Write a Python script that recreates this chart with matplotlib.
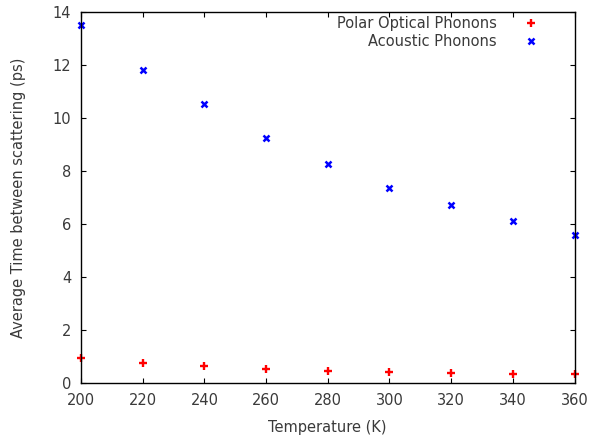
import matplotlib
matplotlib.use("Agg")
import matplotlib.pyplot as plt

temperature = [200, 220, 240, 260, 280, 300, 320, 340, 360]
polar_optical = [0.93, 0.74, 0.64, 0.53, 0.47, 0.43, 0.39, 0.35, 0.33]
acoustic = [13.5, 11.8, 10.53, 9.23, 8.28, 7.35, 6.71, 6.13, 5.58]
xticks = [200, 220, 240, 260, 280, 300, 320, 340, 360]
yticks = [0, 2, 4, 6, 8, 10, 12, 14]

txt = '#3a3a3a'
plt.rcParams['font.family'] = ['DejaVu Sans']
plt.rcParams['font.size'] = 10.5

fig = plt.figure(figsize=(5.91, 4.41), dpi=100)
ax = fig.add_axes([81/591, 58/441, (574.5-81)/591, (383-12)/441])

ax.plot(temperature, polar_optical, linestyle='none', marker='+', color='#ff0000',
        markersize=6, markeredgewidth=1.7, clip_on=False, label='Polar Optical Phonons')
ax.plot(temperature, acoustic, linestyle='none', marker='x', color='#0000ff',
        markersize=5, markeredgewidth=1.8, clip_on=False, label='Acoustic Phonons')

ax.set_xlim(200, 360)
ax.set_ylim(0, 14)
ax.set_xticks(xticks)
ax.set_yticks(yticks)
ax.tick_params(direction='in', top=True, right=True, length=3.5, width=0.8,
               colors='#000000', labelcolor=txt, pad=7)
for s in ax.spines.values():
    s.set_linewidth(1.0)
    s.set_color('#000000')

ax.set_xlabel('Temperature (K)', color=txt, labelpad=9)
ax.set_ylabel('Average Time between scattering (ps)', color=txt, labelpad=19)

leg = ax.legend(loc='upper right', frameon=False, markerfirst=False,
                handlelength=1.0, handletextpad=1.85, labelspacing=0.25,
                borderaxespad=0.0, bbox_to_anchor=(0.938, 1.0057))
for t in leg.get_texts():
    t.set_color(txt)
    t.set_ha('right')

fig.savefig('out.png', dpi=100)
